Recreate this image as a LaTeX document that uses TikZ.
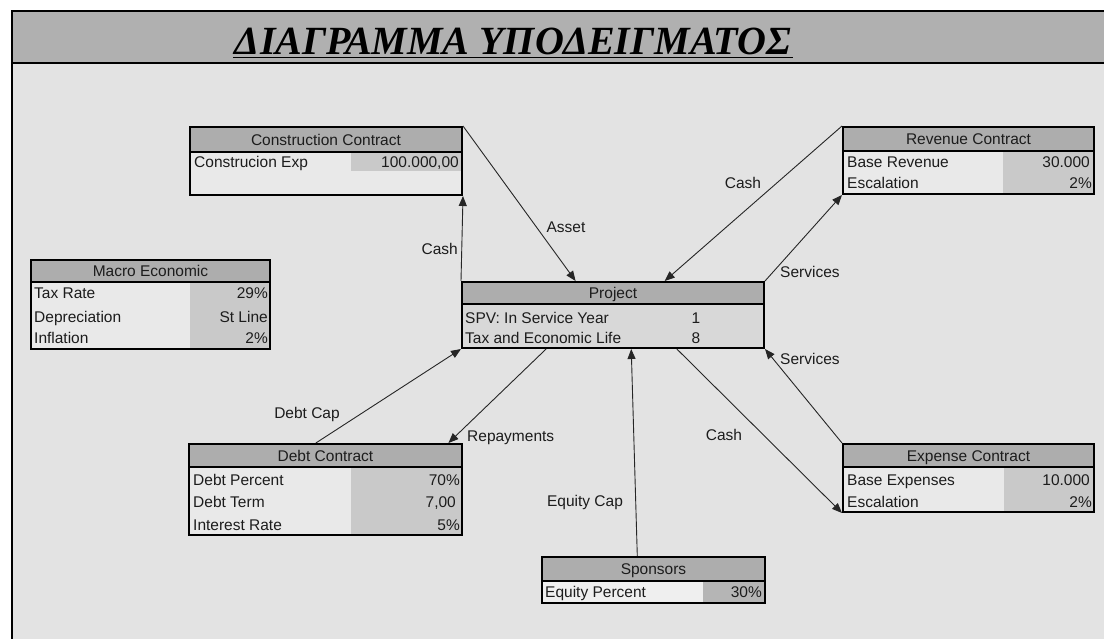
\documentclass[tikz,border=0pt]{standalone}
\usepackage{fontspec}
\setmainfont{Liberation Sans}
\newfontfamily\titlefont{Liberation Serif}
\usetikzlibrary{calc,arrows.meta,fit}

\definecolor{bandgray}{HTML}{B0B0B0}
\definecolor{sheetgray}{HTML}{E3E3E3}
\definecolor{headgray}{HTML}{ADADAD}
\definecolor{bodyfill}{HTML}{E9E9E9}
\definecolor{cellfill}{HTML}{C9C9C9}
\definecolor{projfill}{HTML}{D8D8D8}
\definecolor{spbody}{HTML}{EFEFEF}
\definecolor{spcell}{HTML}{B5B5B5}
\definecolor{inktext}{HTML}{1C1C1C}

\tikzset{
  txt/.style={font=\fontsize{15.5}{18}\selectfont, text=inktext, inner sep=0pt,
              text height=11.2pt, text depth=0pt},
  boxframe/.style={draw=black, line width=2pt, inner sep=0pt},
  arr/.style={draw=black!85, line width=0.9pt, -{Triangle[length=10pt,width=8pt]}},
}

% #1 name, (#2,#3) top left, (#4,#5) bottom right, #6 header bottom, #7 body colour, #8 title
\newcommand\tablebox[8]{%
  \fill[#7] (#2,#3) rectangle (#4,#5);
  \fill[headgray] (#2,#3) rectangle (#4,#6);
  \node[txt, anchor=center] (#1-title) at ({(#2+#4)/2},{(#3+#6)/2}) {#8};
}
\newcommand\tableframe[6]{%
  \node[boxframe, fit={(#2,#3) (#4,#5)}] (#1) {};
  \draw[line width=2pt] (#2,#6) -- (#4,#6);
}

\begin{document}
\begin{tikzpicture}[x=1pt,y=-1pt]
\useasboundingbox (0,0) rectangle (1104,639);
\fill[white] (0,0) rectangle (1104,639);

% sheet with title band
\fill[sheetgray] (12,11) rectangle (1110,645);
\fill[bandgray] (12,11) rectangle (1110,63);
\draw[line width=2.5pt] (1110,63) -- (12,63);
\draw[line width=2.5pt] (12,645) -- (12,11) -- (1110,11);
\node[font=\titlefont\bfseries\itshape\fontsize{40}{44}\selectfont, text=black, inner sep=0pt,
      anchor=base] (title) at (513,55) {ΔΙΑΓΡΑΜΜΑ ΥΠΟΔΕΙΓΜΑΤΟΣ};
\draw[line width=1.6pt] ([xshift=-2pt]title.base west) ++(0,2.5) -- ([xshift=2pt]title.base east |- 0,57.5);

% Construction contract
\tablebox{cc}{190}{127}{462}{195}{152}{bodyfill}{Construction Contract}
\fill[cellfill] (351,152) rectangle (462,171);
\node[txt, anchor=west] (cc-l1) at (194,162) {Construcion Exp};
\node[txt, anchor=east] (cc-v1) at (459,162) {100.000,00};
\tableframe{cc}{190}{127}{462}{195}{152}

% Revenue contract
\tablebox{rev}{843}{127}{1094}{194}{151}{bodyfill}{Revenue Contract}
\fill[cellfill] (1003,151) rectangle (1094,194);
\node[txt, anchor=west] (rev-l1) at (847,162) {Base Revenue};
\node[txt, anchor=east] (rev-v1) at (1090,162) {30.000};
\node[txt, anchor=west] (rev-l2) at (847,183) {Escalation};
\node[txt, anchor=east] (rev-v2) at (1092,183) {2\%};
\tableframe{rev}{843}{127}{1094}{194}{151}

% Macro economic assumptions
\tablebox{mac}{31}{260}{270}{349}{282}{bodyfill}{Macro Economic}
\fill[cellfill] (190,282) rectangle (270,349);
\node[txt, anchor=west] (mac-l1) at (34,293) {Tax Rate};
\node[txt, anchor=east] (mac-v1) at (268,293) {29\%};
\node[txt, anchor=west] (mac-l2) at (34,317) {Depreciation};
\node[txt, anchor=east] (mac-v2) at (268,317) {St Line};
\node[txt, anchor=west] (mac-l3) at (34,338) {Inflation};
\node[txt, anchor=east] (mac-v3) at (268,338) {2\%};
\tableframe{mac}{31}{260}{270}{349}{282}

% Project (SPV)
\tablebox{proj}{462}{282}{764}{348}{304}{projfill}{Project}
\node[txt, anchor=west] (proj-l1) at (465,318) {SPV: In Service Year};
\node[txt, anchor=center] (proj-v1) at (696,318) {1};
\node[txt, anchor=west] (proj-l2) at (465,338) {Tax and Economic Life};
\node[txt, anchor=center] (proj-v2) at (696,338) {8};
\tableframe{proj}{462}{282}{764}{348}{304}

% Debt contract
\tablebox{debt}{189}{444}{462}{535}{467}{bodyfill}{Debt Contract}
\fill[cellfill] (351,467) rectangle (462,535);
\node[txt, anchor=west] (debt-l1) at (193,480) {Debt Percent};
\node[txt, anchor=east] (debt-v1) at (460,480) {70\%};
\node[txt, anchor=west] (debt-l2) at (193,502) {Debt Term};
\node[txt, anchor=east] (debt-v2) at (456,502) {7,00};
\node[txt, anchor=west] (debt-l3) at (193,525) {Interest Rate};
\node[txt, anchor=east] (debt-v3) at (460,525) {5\%};
\tableframe{debt}{189}{444}{462}{535}{467}

% Expense contract
\tablebox{exp}{843}{444}{1094}{512}{467}{bodyfill}{Expense Contract}
\fill[cellfill] (1004,467) rectangle (1094,512);
\node[txt, anchor=west] (exp-l1) at (847,480) {Base Expenses};
\node[txt, anchor=east] (exp-v1) at (1090,480) {10.000};
\node[txt, anchor=west] (exp-l2) at (847,502) {Escalation};
\node[txt, anchor=east] (exp-v2) at (1092,502) {2\%};
\tableframe{exp}{843}{444}{1094}{512}{467}

% Sponsors
\tablebox{sp}{542}{557}{765}{603}{581}{spbody}{Sponsors}
\fill[spcell] (703,581) rectangle (765,603);
\node[txt, anchor=west] (sp-l1) at (545,592) {Equity Percent};
\node[txt, anchor=east] (sp-v1) at (762,592) {30\%};
\tableframe{sp}{542}{557}{765}{603}{581}

% flows between the parties
\draw[arr] (proj.north west) -- (cc.south east);
\draw[arr] (cc.north east) -- ($(proj.north west)!0.377!(proj.north east)$);
\draw[arr] (rev.north west) -- ($(proj.north west)!0.67!(proj.north east)$);
\draw[arr] (proj.north east) -- (rev.south west);
\draw[arr] (exp.north west) -- (proj.south east);
\draw[arr] ($(proj.south west)!0.71!(proj.south east)$) -- (exp.south west);
\draw[arr] ($(sp.north west)!0.428!(sp.north east)$) -- ($(proj.south west)!0.56!(proj.south east)$);
\draw[arr] ($(proj.south west)!0.28!(proj.south east)$) -- ($(debt.north west)!0.947!(debt.north east)$);
\draw[arr] ($(debt.north west)!0.465!(debt.north east)$) -- (proj.south west);

% flow labels
\node[txt, anchor=east] (f-cash1) at (458,249) {Cash};
\node[txt] (f-asset) at (566,227) {Asset};
\node[txt] (f-cash2) at (743,183) {Cash};
\node[txt, anchor=west] (f-serv1) at (780,272) {Services};
\node[txt, anchor=west] (f-serv2) at (780,359) {Services};
\node[txt] (f-cash3) at (724,435) {Cash};
\node[txt] (f-equity) at (585,501) {Equity Cap};
\node[txt, anchor=west] (f-repay) at (467,436) {Repayments};
\node[txt] (f-debtcap) at (307,413) {Debt Cap};
\end{tikzpicture}
\end{document}
